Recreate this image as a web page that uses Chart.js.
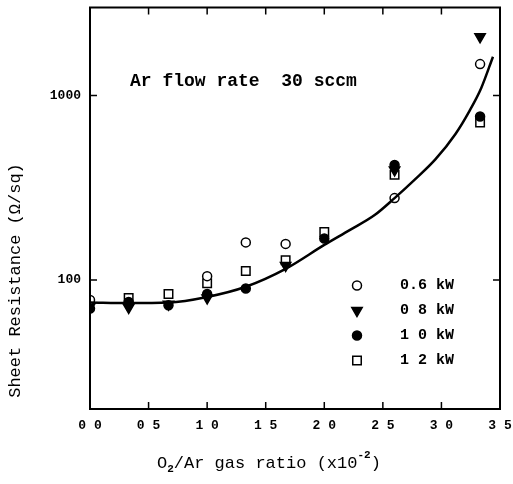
<!DOCTYPE html>
<html>
<head>
<meta charset="utf-8">
<script src="https://cdn.jsdelivr.net/npm/chart.js@4.4.0/dist/chart.umd.min.js"></script>
<style>
  html, body { margin: 0; padding: 0; background: #fff; }
  #chart { display: block; }
</style>
</head>
<body>
<canvas id="chart" width="513" height="484"></canvas>
<script>
"use strict";

const FONT = "'Liberation Mono', monospace";

// axis ticks
const xTicks = [0, 0.5, 1.0, 1.5, 2.0, 2.5, 3.0, 3.5];
const xTickLabels = ["0 0", "0 5", "1 0", "1 5", "2 0", "2 5", "3 0", "3 5"];
const yTicks = [100, 1000];

// measured points, one pair of arrays per power
const seriesNames = ["0.6 kW", "0 8 kW", "1 0 kW", "1 2 kW"];
const x06 = [0, 1.0, 1.33, 1.67, 2.6, 3.33];
const y06 = [78, 105, 160, 157, 278, 1480];
const x08 = [0, 0.33, 0.67, 1.0, 1.67, 2.6, 3.33];
const y08 = [72, 71, 74, 80, 120, 395, 2080];
const x10 = [0, 0.33, 0.67, 1.0, 1.33, 2.0, 2.6, 3.33];
const y10 = [70, 76, 73, 84, 90, 168, 420, 770];
const x12 = [0.33, 0.67, 1.0, 1.33, 1.67, 2.0, 2.6, 3.33];
const y12 = [80, 84, 96, 112, 128, 182, 372, 715];

// fitted curve
const fitX = [0, 0.33, 0.67, 1.0, 1.33, 1.67, 2.0, 2.22, 2.43, 2.6, 2.77, 2.95, 3.12, 3.24, 3.34, 3.44];
const fitY = [75.5, 75, 75.5, 81, 92, 115, 155, 187, 225, 278, 349, 452, 619, 826, 1099, 1623];

const toPoints = (xs, ys) => xs.map((x, i) => ({ x: x, y: ys[i] }));

const markerStyles = [
  { pointStyle: "circle", radius: 4.5, rotation: 0, fill: "#fff" },
  { pointStyle: "triangle", radius: 6, rotation: 180, fill: "#000" },
  { pointStyle: "circle", radius: 4.5, rotation: 0, fill: "#000" },
  { pointStyle: "rect", radius: 6, rotation: 0, fill: "#fff" },
];

const pointSets = [toPoints(x06, y06), toPoints(x08, y08), toPoints(x10, y10), toPoints(x12, y12)];

const datasets = pointSets.map((pts, i) => ({
  label: seriesNames[i],
  data: pts,
  pointStyle: markerStyles[i].pointStyle,
  pointRadius: markerStyles[i].radius,
  pointRotation: markerStyles[i].rotation,
  pointBackgroundColor: markerStyles[i].fill,
  pointBorderColor: "#000",
  pointBorderWidth: 1.5,
  showLine: false,
}));

datasets.unshift({
  label: "fit",
  data: toPoints(fitX, fitY),
  showLine: true,
  borderColor: "#000",
  borderWidth: 2.5,
  pointRadius: 0,
  cubicInterpolationMode: "monotone",
  fill: false,
});

const noPadding = (scale) => {
  scale.paddingTop = 0;
  scale.paddingBottom = 0;
  scale.paddingLeft = 0;
  scale.paddingRight = 0;
};

const decorations = {
  id: "decorations",
  afterDraw(chart) {
    const ctx = chart.ctx;
    const area = chart.chartArea;
    const xs = chart.scales.x;
    const ys = chart.scales.y;
    ctx.save();
    ctx.strokeStyle = "#000";
    ctx.fillStyle = "#000";

    // frame
    ctx.lineWidth = 2;
    ctx.strokeRect(area.left, area.top, area.right - area.left, area.bottom - area.top);

    // inward ticks on all four sides
    ctx.lineWidth = 1.5;
    ctx.beginPath();
    xTicks.forEach((v) => {
      const px = xs.getPixelForValue(v);
      ctx.moveTo(px, area.bottom);
      ctx.lineTo(px, area.bottom - 7);
      ctx.moveTo(px, area.top);
      ctx.lineTo(px, area.top + 7);
    });
    yTicks.forEach((v) => {
      const py = ys.getPixelForValue(v);
      ctx.moveTo(area.left, py);
      ctx.lineTo(area.left + 7, py);
      ctx.moveTo(area.right, py);
      ctx.lineTo(area.right - 7, py);
    });
    ctx.stroke();

    // annotation
    ctx.font = "bold 18px " + FONT;
    ctx.textAlign = "left";
    ctx.textBaseline = "alphabetic";
    ctx.fillText("Ar flow rate  30 sccm", area.left + 40, area.top + 78);

    // legend
    ctx.font = "bold 15px " + FONT;
    ctx.textBaseline = "middle";
    seriesNames.forEach((name, i) => {
      const y = area.top + 278 + i * 25;
      const m = markerStyles[i];
      ctx.fillStyle = m.fill;
      ctx.strokeStyle = "#000";
      ctx.lineWidth = 1.5;
      Chart.helpers.drawPoint(ctx, {
        pointStyle: m.pointStyle,
        radius: m.radius,
        rotation: m.rotation,
        borderWidth: 1.5,
      }, area.left + 267, y);
      ctx.fillStyle = "#000";
      ctx.fillText(name, area.left + 310, y);
    });

    // y axis title
    ctx.save();
    ctx.translate(15, area.top + 273);
    ctx.rotate(-Math.PI / 2);
    ctx.font = "17px " + FONT;
    ctx.textAlign = "center";
    ctx.textBaseline = "middle";
    ctx.fillText("Sheet Resistance (\u03A9/sq)", 0, 0);
    ctx.restore();

    // x axis title with sub- and superscript
    let tx = area.left + 67;
    const base = area.bottom + 59;
    ctx.textAlign = "left";
    ctx.textBaseline = "alphabetic";
    ctx.font = "17px " + FONT;
    ctx.fillText("O", tx, base);
    tx += ctx.measureText("O").width;
    ctx.font = "bold 11px " + FONT;
    ctx.fillText("2", tx, base + 4);
    tx += ctx.measureText("2").width;
    ctx.font = "17px " + FONT;
    ctx.fillText("/Ar gas ratio (x10", tx, base);
    tx += ctx.measureText("/Ar gas ratio (x10").width;
    ctx.font = "bold 11px " + FONT;
    ctx.fillText("-2", tx, base - 10);
    tx += ctx.measureText("-2").width;
    ctx.font = "17px " + FONT;
    ctx.fillText(")", tx, base);

    ctx.restore();
  },
};

new Chart(document.getElementById("chart").getContext("2d"), {
  type: "scatter",
  data: { datasets: datasets },
  options: {
    responsive: false,
    animation: false,
    layout: { padding: { top: 1, right: 13, left: 0, bottom: 0 } },
    plugins: {
      legend: { display: false },
      tooltip: { enabled: false },
    },
    scales: {
      x: {
        type: "linear",
        min: 0,
        max: 3.5,
        afterBuildTicks: (scale) => {
          scale.ticks = xTicks.map((v) => ({ value: v }));
        },
        afterFit: (scale) => {
          scale.height = 75;
          noPadding(scale);
        },
        ticks: {
          callback: (value, index) => xTickLabels[index],
          color: "#000",
          font: { family: FONT, size: 13, weight: "bold" },
          padding: 9,
          maxRotation: 0,
          autoSkip: false,
        },
        grid: { display: false, drawTicks: false },
        border: { display: false },
      },
      y: {
        type: "logarithmic",
        min: 20,
        max: 3000,
        afterBuildTicks: (scale) => {
          scale.ticks = yTicks.map((v) => ({ value: v }));
        },
        afterFit: (scale) => {
          scale.width = 90;
          noPadding(scale);
        },
        ticks: {
          callback: (value) => String(value),
          color: "#000",
          font: { family: FONT, size: 13, weight: "bold" },
          padding: 9,
          autoSkip: false,
        },
        grid: { display: false, drawTicks: false },
        border: { display: false },
      },
    },
  },
  plugins: [decorations],
});
</script>
</body>
</html>
